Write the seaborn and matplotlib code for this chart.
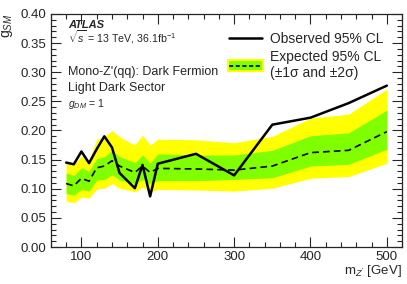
"""Mono-Z'(qq) dark fermion limit on g_SM versus m_Z'."""

import matplotlib

matplotlib.use("Agg")

import matplotlib.pyplot as plt
import numpy as np
import pandas as pd
import seaborn as sns
from matplotlib.lines import Line2D
from matplotlib.patches import Patch
from matplotlib.ticker import MultipleLocator

# mediator masses [GeV]
masses = [80, 90, 100, 110, 120, 130, 140, 150, 170, 180, 190, 200, 250, 300, 350, 400, 450, 500]

observed = [0.145, 0.142, 0.164, 0.144, 0.168, 0.190, 0.171, 0.127, 0.101, 0.141, 0.087, 0.143,
            0.160, 0.123, 0.210, 0.222, 0.247, 0.277]
expected = [0.109, 0.105, 0.118, 0.113, 0.136, 0.139, 0.148, 0.139, 0.128, 0.139, 0.128, 0.135,
            0.134, 0.132, 0.139, 0.162, 0.166, 0.198]

minus_2sigma = [0.079, 0.076, 0.086, 0.084, 0.100, 0.101, 0.109, 0.101, 0.095, 0.103, 0.095, 0.099,
                0.098, 0.096, 0.101, 0.118, 0.121, 0.144]
minus_1sigma = [0.092, 0.089, 0.099, 0.096, 0.115, 0.116, 0.124, 0.115, 0.109, 0.116, 0.109, 0.114,
                0.114, 0.116, 0.119, 0.139, 0.142, 0.168]
plus_1sigma = [0.127, 0.123, 0.136, 0.130, 0.152, 0.155, 0.166, 0.155, 0.145, 0.158, 0.144, 0.160,
               0.158, 0.158, 0.166, 0.191, 0.196, 0.235]
plus_2sigma = [0.146, 0.141, 0.156, 0.150, 0.185, 0.190, 0.200, 0.189, 0.175, 0.192, 0.175, 0.185,
               0.184, 0.179, 0.190, 0.221, 0.228, 0.271]

YELLOW = "#ffff00"
GREEN = "#80ff00"

df = pd.DataFrame(
    {
        "mass": masses,
        "observed": observed,
        "expected": expected,
        "m2": minus_2sigma,
        "m1": minus_1sigma,
        "p1": plus_1sigma,
        "p2": plus_2sigma,
    }
)

sns.set_theme(style="ticks")
plt.rcParams["font.family"] = ["Liberation Sans", "DejaVu Sans"]
plt.rcParams["mathtext.fontset"] = "custom"
plt.rcParams["mathtext.rm"] = "Liberation Sans"
plt.rcParams["mathtext.it"] = "Liberation Sans:italic"

fig = plt.figure(figsize=(4.07, 2.84), dpi=100)
ax = fig.add_axes([0.125, 0.130, 0.863, 0.821])

ax.fill_between(df["mass"], df["m2"], df["p2"], color=YELLOW, lw=0, zorder=1)
ax.fill_between(df["mass"], df["m1"], df["p1"], color=GREEN, lw=0, zorder=2)
sns.lineplot(data=df, x="mass", y="expected", ax=ax, color="black", lw=1.2,
             linestyle=(0, (4, 2.5)), zorder=3)
sns.lineplot(data=df, x="mass", y="observed", ax=ax, color="black", lw=1.8, zorder=4)

ax.set_xlim(60, 520)
ax.set_ylim(0, 0.40)
ax.xaxis.set_major_locator(MultipleLocator(100))
ax.xaxis.set_minor_locator(MultipleLocator(20))
ax.yaxis.set_major_locator(MultipleLocator(0.05))
ax.yaxis.set_minor_locator(MultipleLocator(0.01))
ax.yaxis.set_major_formatter(matplotlib.ticker.FormatStrFormatter("%.2f"))
ax.tick_params(which="both", direction="in", top=True, right=True, labelsize=9.5, width=0.8)
ax.tick_params(which="major", length=7)
ax.tick_params(which="minor", length=3.5)
ax.tick_params(axis="x", pad=3)
for spine in ax.spines.values():
    spine.set_linewidth(0.9)

ax.set_xlabel(r"m$_{Z'}$ [GeV]", loc="right", fontsize=9.5, labelpad=0)
ax.set_ylabel(r"g$_{SM}$", loc="top", fontsize=10)

ax.text(0.048, 0.94, "ATLAS", transform=ax.transAxes, fontsize=8, fontweight="bold",
        fontstyle="italic")
ax.text(0.048, 0.876, r"$\sqrt{s}$ = 13 TeV, 36.1fb$^{-1}$", transform=ax.transAxes, fontsize=7.7)
ax.text(0.048, 0.738, "Mono-Z'(qq): Dark Fermion", transform=ax.transAxes, fontsize=9)
ax.text(0.048, 0.668, "Light Dark Sector", transform=ax.transAxes, fontsize=9)
ax.text(0.048, 0.60, r"$g_{DM}$ = 1", transform=ax.transAxes, fontsize=7.5)

obs_handle = Line2D([], [], color="black", lw=1.8)
exp_handle = (
    Patch(facecolor=YELLOW, edgecolor=YELLOW, lw=3),
    Patch(facecolor=GREEN, edgecolor=GREEN, lw=0),
    Line2D([], [], color="black", lw=1.2, linestyle=(0, (2.5, 1.5))),
)
ax.legend(
    [obs_handle, exp_handle],
    ["Observed 95% CL", "Expected 95% CL\n(±1σ and ±2σ)"],
    loc="upper left",
    bbox_to_anchor=(0.49, 0.945),
    frameon=False,
    fontsize=10,
    handlelength=2.4,
    handletextpad=0.6,
    labelspacing=0.25,
    borderaxespad=0,
)

fig.savefig("out.png", dpi=100)
